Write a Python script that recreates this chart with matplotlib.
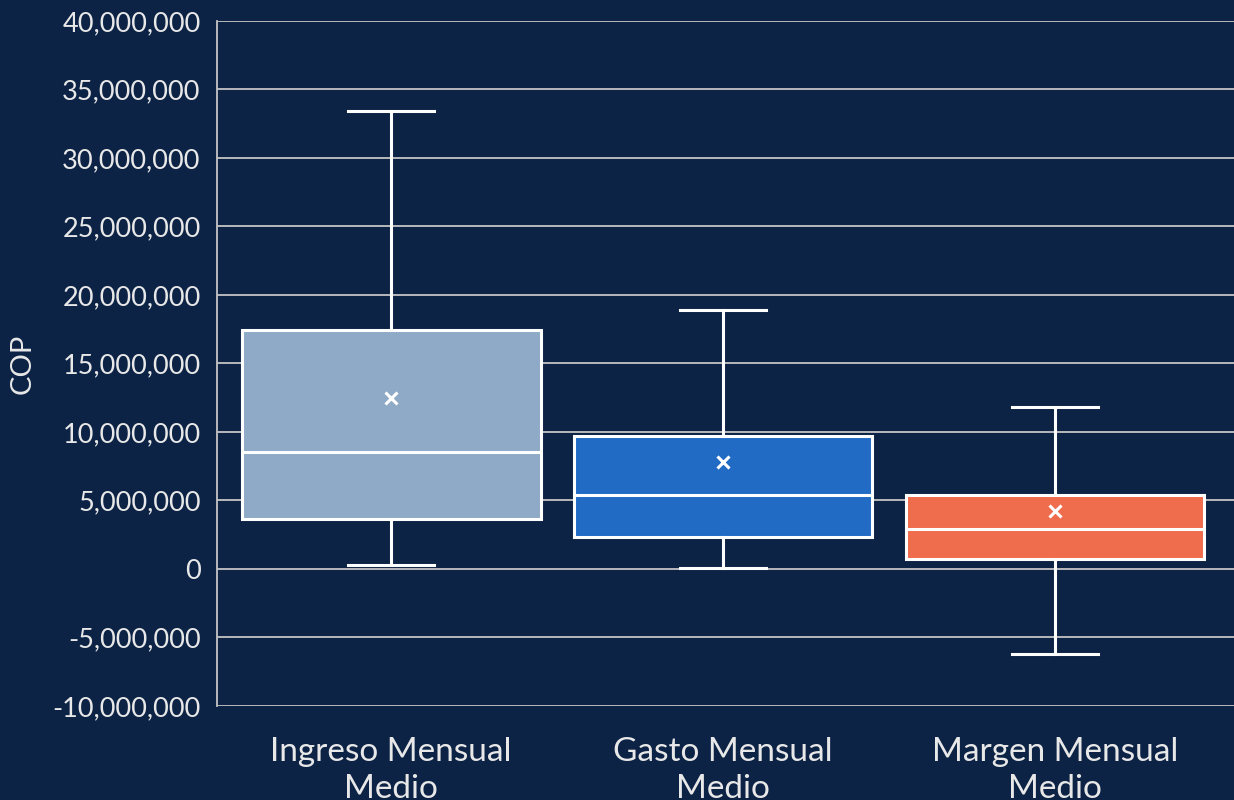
import matplotlib.pyplot as plt
from matplotlib.ticker import FuncFormatter

# Datos (COP)
categorias = ['Ingreso Mensual\nMedio', 'Gasto Mensual\nMedio', 'Margen Mensual\nMedio']
bigote_inf = [0.29e6, 0.07e6, -6.2e6]
q1 = [3.65e6, 2.34e6, 0.73e6]
mediana = [8.54e6, 5.4e6, 2.92e6]
q3 = [17.45e6, 9.71e6, 5.4e6]
bigote_sup = [33.43e6, 18.9e6, 11.82e6]
media = [12.48e6, 7.81e6, 4.23e6]
colores = ['#8eaac6', '#216bc5', '#ef6c4d']

fondo = '#0c2346'
plt.rcParams['font.family'] = ['Lato', 'DejaVu Sans']

fig = plt.figure(figsize=(12.34, 8), dpi=100, facecolor=fondo)
ax = fig.add_axes([0.176, 0.1175, 0.824, 0.8563])
ax.set_facecolor(fondo)

stats = []
for i in range(len(categorias)):
    stats.append({'whislo': bigote_inf[i], 'q1': q1[i], 'med': mediana[i],
                  'q3': q3[i], 'whishi': bigote_sup[i], 'mean': media[i],
                  'fliers': []})

bp = ax.bxp(stats, positions=range(len(categorias)), widths=0.9, patch_artist=True,
            showmeans=True, showfliers=False,
            boxprops=dict(edgecolor='white', linewidth=2.2),
            medianprops=dict(color='white', linewidth=2.2),
            whiskerprops=dict(color='white', linewidth=2.2),
            capprops=dict(color='white', linewidth=2.2),
            meanprops=dict(marker='x', markeredgecolor='white', markersize=8,
                           markeredgewidth=2.2))
for caja, c in zip(bp['boxes'], colores):
    caja.set_facecolor(c)
for cap in bp['caps']:
    x = cap.get_xdata()
    m = (x[0] + x[1]) / 2
    cap.set_xdata([m - 0.13, m + 0.13])

ax.set_xlim(-0.524, 2.539)
ax.set_ylim(-10e6, 40e6)
ax.set_yticks(range(-10000000, 40000001, 5000000))
ax.yaxis.set_major_formatter(FuncFormatter(lambda v, p: f'{int(v):,}'))
ax.set_xticks(range(len(categorias)))
ax.set_xticklabels(categorias, fontsize=24, color='#e8e8e8', linespacing=1.3)
ax.tick_params(axis='y', labelsize=19.5, labelcolor='#e8e8e8', length=0, pad=12)
ax.tick_params(axis='x', length=0, pad=22)
ax.grid(axis='y', color='#c4c4c4', linewidth=1.3)
ax.set_axisbelow(True)
for s in ['top', 'right', 'bottom']:
    ax.spines[s].set_visible(False)
ax.spines['left'].set_color('#c4c4c4')
ax.spines['left'].set_linewidth(1.3)
ax.set_ylabel('COP', fontsize=21, color='#e8e8e8', labelpad=12)

fig.savefig('out.png', dpi=100, facecolor=fondo)
